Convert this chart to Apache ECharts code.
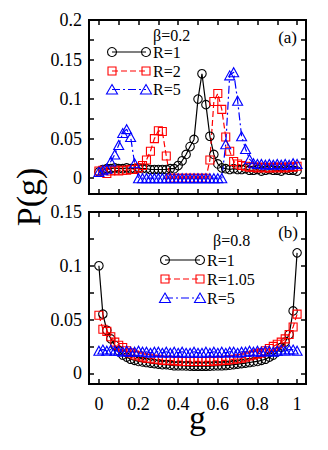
<!DOCTYPE html>
<html>
<head>
<meta charset="utf-8">
<script src="https://cdn.jsdelivr.net/npm/echarts@6/dist/echarts.min.js"></script>
<style>
  html, body { margin: 0; padding: 0; background: #fff; }
  #main { width: 328px; height: 450px; }
</style>
</head>
<body>
<div id="main"></div>
<script>
// g values (same for every curve)
const gVals = [0, 0.02, 0.04, 0.06, 0.08, 0.1, 0.12, 0.14, 0.16, 0.18,
  0.2, 0.22, 0.24, 0.26, 0.28, 0.3, 0.32, 0.34, 0.36, 0.38,
  0.4, 0.42, 0.44, 0.46, 0.48, 0.5, 0.52, 0.54, 0.56, 0.58,
  0.6, 0.62, 0.64, 0.66, 0.68, 0.7, 0.72, 0.74, 0.76, 0.78,
  0.8, 0.82, 0.84, 0.86, 0.88, 0.9, 0.92, 0.94, 0.96, 0.98, 1];

// panel (a), beta=0.2
const aR1 = [0.008, 0.011, 0.012, 0.012, 0.013, 0.012, 0.012, 0.013, 0.012, 0.012,
  0.013, 0.012, 0.012, 0.011, 0.011, 0.011, 0.011, 0.011, 0.012, 0.012,
  0.016, 0.022, 0.03, 0.04, 0.049, 0.1, 0.132, 0.093, 0.053, 0.03,
  0.018, 0.013, 0.012, 0.011, 0.012, 0.011, 0.011, 0.012, 0.010, 0.010,
  0.011, 0.009, 0.010, 0.011, 0.010, 0.010, 0.009, 0.011, 0.010, 0.010, 0.009];
const aR2 = [0.009, 0.01, 0.006, 0.009, 0.01, 0.009, 0.01, 0.01, 0.011, 0.011,
  0.013, 0.016, 0.023, 0.034, 0.05, 0.06, 0.059, 0.028, 0, 0,
  0, 0, 0, 0, 0, 0, 0, 0, 0.023, 0.097,
  0.107, 0.087, 0.052, 0.034, 0.021, 0.018, 0.016, 0.015, 0.014, 0.014,
  0.013, 0.014, 0.013, 0.013, 0.014, 0.013, 0.014, 0.013, 0.014, 0.014, 0.015];
const aR5 = [0.008, 0.01, 0.012, 0.021, 0.03, 0.042, 0.057, 0.062, 0.052, 0.019,
  0, 0, 0, 0, 0, 0, 0, 0, 0, 0,
  0, 0, 0, 0, 0, 0, 0, 0, 0, 0,
  0, 0, 0.043, 0.13, 0.134, 0.098, 0.053, 0.037, 0.024, 0.019,
  0.018, 0.018, 0.017, 0.018, 0.017, 0.018, 0.017, 0.018, 0.017, 0.019, 0.018];

// panel (b), beta=0.8
const bR1 = [0.1, 0.055, 0.04, 0.032, 0.026, 0.021, 0.017, 0.015, 0.013, 0.012,
  0.011, 0.0105, 0.01, 0.0095, 0.009, 0.0085, 0.008, 0.008, 0.0075, 0.007,
  0.007, 0.007, 0.0068, 0.0066, 0.0065, 0.0065, 0.0065, 0.0065, 0.0066, 0.0068,
  0.007, 0.007, 0.0072, 0.0075, 0.008, 0.0085, 0.009, 0.0095, 0.01, 0.0105,
  0.011, 0.012, 0.013, 0.015, 0.017, 0.02, 0.024, 0.029, 0.036, 0.058, 0.112];
const bR105 = [0.054, 0.041, 0.039, 0.034, 0.029, 0.026, 0.024, 0.021, 0.019, 0.017,
  0.016, 0.015, 0.014, 0.014, 0.013, 0.013, 0.012, 0.012, 0.012, 0.0115,
  0.0115, 0.011, 0.011, 0.011, 0.011, 0.011, 0.011, 0.011, 0.011, 0.0115,
  0.0115, 0.012, 0.012, 0.0125, 0.013, 0.0135, 0.014, 0.015, 0.016, 0.017,
  0.018, 0.019, 0.021, 0.023, 0.025, 0.027, 0.029, 0.032, 0.036, 0.043, 0.055];
const bR5 = [0.021, 0.022, 0.021, 0.022, 0.021, 0.021, 0.02, 0.021, 0.02, 0.02,
  0.021, 0.02, 0.02, 0.019, 0.02, 0.02, 0.019, 0.02, 0.019, 0.02,
  0.019, 0.02, 0.019, 0.019, 0.02, 0.019, 0.019, 0.02, 0.019, 0.02,
  0.019, 0.02, 0.019, 0.02, 0.02, 0.019, 0.02, 0.02, 0.021, 0.02,
  0.021, 0.02, 0.021, 0.021, 0.02, 0.021, 0.022, 0.021, 0.022, 0.022, 0.021];

// ticks and labels
const xTicks = [0, 0.1, 0.2, 0.3, 0.4, 0.5, 0.6, 0.7, 0.8, 0.9, 1];
const xLabels = [0, 0.2, 0.4, 0.6, 0.8, 1];
const aYTicks = [0, 0.025, 0.05, 0.075, 0.1, 0.125, 0.15, 0.175, 0.2];
const aYLabels = [0, 0.05, 0.1, 0.15, 0.2];
const bYTicks = [0, 0.025, 0.05, 0.075, 0.1, 0.125, 0.15];
const bYLabels = [0, 0.05, 0.1, 0.15];

const FONT = 'Liberation Serif, DejaVu Serif, serif';

function pairs(ys) {
  return gVals.map(function (g, i) { return [g, ys[i]]; });
}
function fmt(v) {
  return String(+(+v).toFixed(3));
}

function valueAxis(opt) {
  const ax = {
    type: 'value',
    gridIndex: opt.grid,
    position: opt.position,
    min: opt.min,
    max: opt.max,
    axisLine: { show: false, onZero: false },  // keep axes on the frame, not at 0
    splitLine: { show: false },
    axisTick: {
      inside: true,
      length: 5,
      customValues: opt.ticks,
      lineStyle: { color: '#000', width: 1.5 }
    },
    axisLabel: { show: false }
  };
  if (opt.labels) {
    ax.axisLabel = {
      show: true,
      customValues: opt.labels,
      formatter: fmt,
      color: '#000',
      fontFamily: FONT,
      fontSize: 18,
      margin: opt.margin || 7
    };
  }
  if (opt.name) {
    ax.name = opt.name;
    ax.nameLocation = 'middle';
    ax.nameGap = opt.nameGap;
    ax.nameMoveOverlap = false;
    ax.nameTextStyle = { fontFamily: FONT, fontSize: 34, color: '#000' };
  }
  return ax;
}

const styles = {
  r1: { symbol: 'circle', size: 8.5, color: '#000', dash: 'solid' },
  r2: { symbol: 'rect', size: 8, color: '#ff0000', dash: [6, 3] },
  r5: { symbol: 'triangle', size: [10, 9], color: '#0000ff', dash: [8, 3, 2, 3] }
};

function lineSeries(name, st, data, idx) {
  return {
    name: name,
    type: 'line',
    xAxisIndex: idx,
    yAxisIndex: idx,
    data: data,
    symbol: st.symbol,
    symbolSize: st.size,
    showAllSymbol: true,
    animation: false,
    lineStyle: { color: st.color, width: 1.2, type: st.dash },
    itemStyle: { color: 'rgba(0,0,0,0)', borderColor: st.color, borderWidth: 1.1 }
  };
}

// hand drawn legend rows (line with a marker on both ends)
function marker(kind, cx, cy, color) {
  if (kind === 'circle') {
    return { type: 'circle', shape: { cx: cx, cy: cy, r: 4.5 }, style: { fill: 'none', stroke: color, lineWidth: 1.1 } };
  }
  if (kind === 'rect') {
    return { type: 'rect', shape: { x: cx - 4, y: cy - 4, width: 8, height: 8 }, style: { fill: 'none', stroke: color, lineWidth: 1.1 } };
  }
  return { type: 'polygon', shape: { points: [[cx, cy - 5], [cx + 5.5, cy + 4.5], [cx - 5.5, cy + 4.5]] }, style: { fill: 'none', stroke: color, lineWidth: 1.1 } };
}
function text(x, y, s, align, size) {
  return {
    type: 'text', x: x, y: y,
    style: {
      text: s, fill: '#000', fontFamily: FONT, fontSize: size || 16,
      verticalAlign: 'middle', align: align || 'left'
    }
  };
}
function legendRow(x1, x2, y, st, label) {
  return [
    { type: 'line', shape: { x1: x1, y1: y, x2: x2, y2: y },
      style: { stroke: st.color, lineWidth: 1.2, lineDash: st.dash === 'solid' ? null : st.dash } },
    marker(st.symbol, x1, y, st.color),
    marker(st.symbol, x2, y, st.color),
    text(x2 + 7, y, label)
  ];
}

let graphics = [];
graphics.push(text(153, 35, 'β=0.2'));
graphics.push(text(297, 37, '(a)', 'right', 17));
graphics = graphics.concat(legendRow(112, 146, 52, styles.r1, 'R=1'));
graphics = graphics.concat(legendRow(112, 146, 71, styles.r2, 'R=2'));
graphics = graphics.concat(legendRow(112, 146, 89.5, styles.r5, 'R=5'));

graphics.push(text(213, 240, 'β=0.8'));
graphics.push(text(298, 232, '(b)', 'right', 17));
graphics = graphics.concat(legendRow(165, 200, 260, styles.r1, 'R=1'));
graphics = graphics.concat(legendRow(165, 200, 279, styles.r2, 'R=1.05'));
graphics = graphics.concat(legendRow(165, 200, 298, styles.r5, 'R=5'));

// y axis title shared by both panels
graphics.push({
  type: 'text', x: 28, y: 197, rotation: Math.PI / 2,
  style: { text: 'P(g)', fill: '#000', fontFamily: FONT, fontSize: 34, align: 'center', verticalAlign: 'middle' }
});

const chart = echarts.init(document.getElementById('main'), null, { renderer: 'svg' });

const option = {
  backgroundColor: '#fff',
  animation: false,
  grid: [
    { left: 89, top: 20, width: 217, height: 174, show: true, borderColor: '#000', borderWidth: 2, backgroundColor: 'transparent' },
    { left: 89, top: 212, width: 217, height: 172, show: true, borderColor: '#000', borderWidth: 2, backgroundColor: 'transparent' }
  ],
  xAxis: [
    valueAxis({ grid: 0, position: 'bottom', min: -0.05, max: 1.045, ticks: xTicks }),
    valueAxis({ grid: 0, position: 'top', min: -0.05, max: 1.045, ticks: xTicks }),
    valueAxis({ grid: 1, position: 'bottom', min: -0.05, max: 1.045, ticks: xTicks, labels: xLabels, margin: 11, name: 'g', nameGap: 16 }),
    valueAxis({ grid: 1, position: 'top', min: -0.05, max: 1.045, ticks: xTicks })
  ],
  yAxis: [
    valueAxis({ grid: 0, position: 'left', min: -0.02, max: 0.2, ticks: aYTicks, labels: aYLabels }),
    valueAxis({ grid: 0, position: 'right', min: -0.02, max: 0.2, ticks: aYTicks }),
    valueAxis({ grid: 1, position: 'left', min: -0.01, max: 0.15, ticks: bYTicks, labels: bYLabels }),
    valueAxis({ grid: 1, position: 'right', min: -0.01, max: 0.15, ticks: bYTicks })
  ],
  series: [
    lineSeries('R=1', styles.r1, pairs(aR1), 0),
    lineSeries('R=2', styles.r2, pairs(aR2), 0),
    lineSeries('R=5', styles.r5, pairs(aR5), 0),
    lineSeries('R=1', styles.r1, pairs(bR1), 2),
    lineSeries('R=1.05', styles.r2, pairs(bR105), 2),
    lineSeries('R=5', styles.r5, pairs(bR5), 2)
  ],
  graphic: graphics
};
chart.setOption(option);
</script>
</body>
</html>
